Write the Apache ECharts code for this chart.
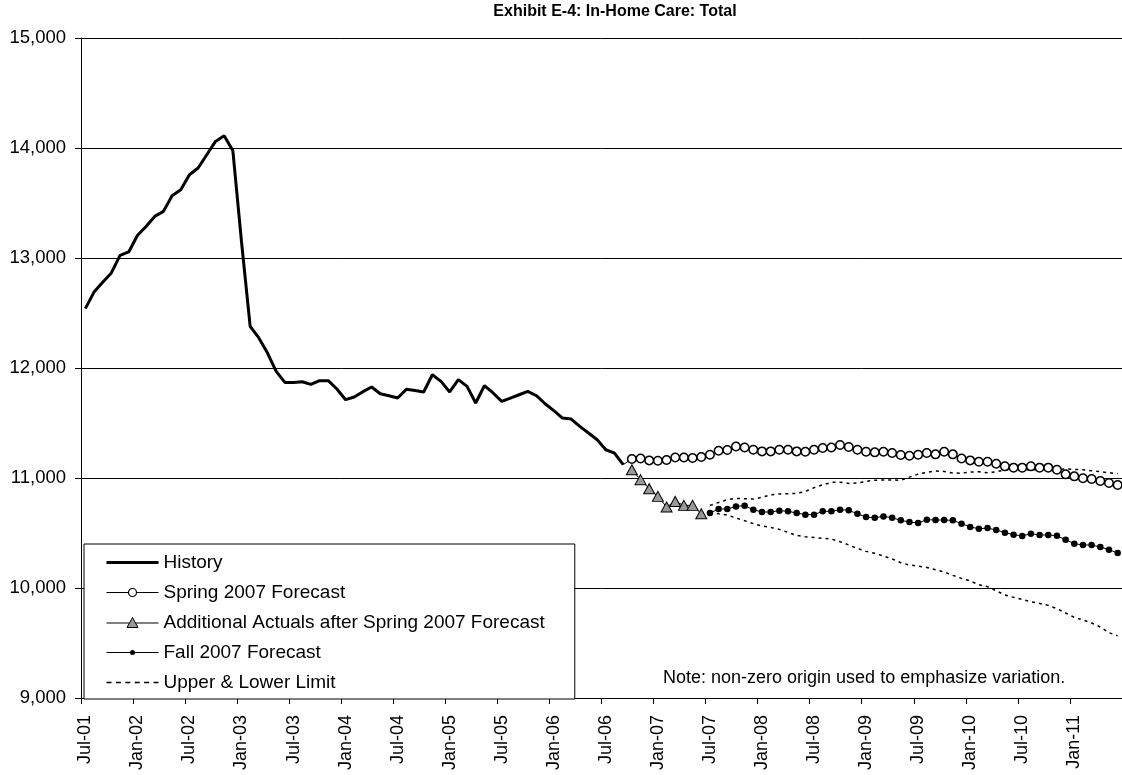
<!DOCTYPE html>
<html><head><meta charset="utf-8">
<script src="https://cdn.jsdelivr.net/npm/echarts@6/dist/echarts.min.js"></script>
<style>html,body{margin:0;padding:0;background:#fff}#c{width:1122px;height:775px}</style>
</head><body><div id="c"></div>
<script>
const FONT = '"Liberation Sans", Arial, sans-serif';
const monthNames = ['Jan','Feb','Mar','Apr','May','Jun','Jul','Aug','Sep','Oct','Nov','Dec'];
// Monthly categories Jul-01 .. Jun-11
const categories = [];
for (let k = 0; k < 120; k++) {
  const m = (6 + k) % 12, y = 1 + Math.floor((6 + k) / 12);
  categories.push(monthNames[m] + '-' + String(y).padStart(2, '0'));
}
const yTicks = [9000, 10000, 11000, 12000, 13000, 14000, 15000];

const historyStart = 0;
const history = [12540,12690,12780,12864,13024,13055,13205,13287,13378,13424,
  13566,13621,13757,13818,13939,14060,14112,13978,13150,12378,
  12273,12136,11969,11869,11869,11875,11851,11885,11885,11809,
  11712,11736,11785,11827,11766,11748,11727,11806,11795,11782,
  11939,11878,11782,11894,11833,11682,11839,11773,11696,11727,
  11757,11787,11748,11675,11612,11545,11536,11469,11409,11348,
  11257,11227,11121];

const springStart = 62;
const spring = [11121,
  11173,11178,11160,11157,11164,11187,11187,11182,11191,
  11212,11248,11255,11287,11278,11257,11242,11242,11257,11257,
  11242,11239,11257,11273,11278,
  11300,11282,11257,11239,11233,11239,11227,11209,11203,11212,
  11227,11215,11239,11215,11178,11160,11148,11148,11130,11106,
  11094,11094,11106,11094,11094,11075,11033,11015,10997,10991,
  10973,10955,10937];

const actualsStart = 63;
const actuals = [11075,10985,10903,10833,10736,10787,10751,10751,10675];

const fallStart = 72;
const fall = [10682,10718,10718,10742,10748,10712,10691,10691,10703,10697,
  10682,10667,10667,10697,10697,10712,10706,10675,10645,10639,
  10651,10639,10615,10600,10591,10621,10618,10618,10615,10585,
  10555,10539,10545,10527,10503,10485,10473,10494,10482,10482,
  10475,10439,10403,10391,10391,10373,10348,10318];

const limitStart = 72;
const upper = [10751,10778,10803,10815,10812,10809,10824,10848,10855,10857,
  10860,10878,10912,10938,10960,10962,10951,10955,10969,10980,
  10982,10982,10980,11008,11035,11052,11063,11060,11045,11044,
  11054,11057,11048,11057,11073,11082,11075,11075,11075,11075,
  11075,11082,11078,11075,11066,11057,11048,11040];
const lower = [10688,10675,10664,10636,10612,10585,10564,10551,10533,10505,
  10478,10466,10460,10451,10445,10421,10391,10360,10333,10315,
  10291,10264,10230,10209,10200,10187,10166,10145,10115,10087,
  10064,10030,10012,9975,9936,9915,9896,9875,9860,9842,
  9812,9773,9733,9709,9682,9645,9594,9565];

const names = ['History','Spring 2007 Forecast','Additional Actuals after Spring 2007 Forecast','Fall 2007 Forecast','Upper & Lower Limit'];

function pad(start, vals) {
  const a = new Array(categories.length).fill(null);
  vals.forEach((v, k) => { a[start + k] = v; });
  return a;
}
const springData = pad(springStart, spring).map((v, k) => k === springStart ? {value: v, symbol: 'none'} : v);

const chart = echarts.init(document.getElementById('c'), null, {renderer: 'canvas'});
chart.setOption({
  animation: false,
  backgroundColor: '#fff',
  title: {
    text: 'Exhibit E-4: In-Home Care: Total',
    left: 610, top: -1, textAlign: 'center',
    textStyle: {fontFamily: FONT, fontSize: 16, fontWeight: 'bold', color: '#000'}
  },
  grid: {left: 81, top: 38, width: 1045.6, height: 660, containLabel: false},
  xAxis: {
    type: 'category', data: categories, boundaryGap: true,
    axisLine: {lineStyle: {color: '#000', width: 1}},
    axisTick: {show: true, interval: 5, length: 6, lineStyle: {color: '#000'}},
    axisLabel: {interval: 5, rotate: 90, margin: 17, fontFamily: FONT, fontSize: 18, color: '#000'},
    splitLine: {show: false}
  },
  yAxis: {
    type: 'value', min: yTicks[0], max: yTicks[yTicks.length - 1], interval: 1000,
    axisLine: {show: true, lineStyle: {color: '#000', width: 1}},
    axisTick: {show: true, length: 6, lineStyle: {color: '#000'}},
    axisLabel: {margin: 15, fontFamily: FONT, fontSize: 18.5, color: '#000',
      formatter: v => v.toLocaleString('en-US')},
    splitLine: {show: true, lineStyle: {color: '#000', width: 1}}
  },
  legend: {
    orient: 'vertical', left: 84, top: 544,
    itemWidth: 52, itemHeight: 10, itemGap: 11,
    padding: [9, 30, 7, 22],
    backgroundColor: '#fff', borderColor: '#000', borderWidth: 1, borderRadius: 0,
    selectedMode: false,
    textStyle: {fontFamily: FONT, fontSize: 19, color: '#000'},
    data: [
      {name: names[0], icon: 'path://M0,0H52V3H0Z', itemStyle: {color: '#000', borderWidth: 0}},
      {name: names[1], itemStyle: {color: '#fff', borderColor: '#000', borderWidth: 1.2}, lineStyle: {color: '#000', width: 1}},
      {name: names[2], icon: 'path://M0,0H23 M29,0H52 M26,-5.5L31.5,4.5H20.5Z', itemStyle: {color: '#999', borderColor: '#000', borderWidth: 1}},
      {name: names[3], icon: 'path://M0,-0.5H52V0.5H0Z M28.5,0A2.5,2.5 0 1 1 23.5,0A2.5,2.5 0 1 1 28.5,0Z', itemStyle: {color: '#000', borderWidth: 0}},
      {name: names[4], icon: 'path://M0,0H5V1.5H0Z M9.4,0H14.4V1.5H9.4Z M18.8,0H23.8V1.5H18.8Z M28.2,0H33.2V1.5H28.2Z M37.6,0H42.6V1.5H37.6Z M47,0H52V1.5H47Z', itemStyle: {color: '#000', borderWidth: 0}}
    ]
  },
  graphic: [{
    type: 'text', x: 663, y: 678, silent: true,
    style: {text: 'Note: non-zero origin used to emphasize variation.', font: '18px ' + FONT, fill: '#000', align: 'left', verticalAlign: 'middle'}
  }],
  series: [
    {name: names[4], type: 'line', data: pad(limitStart, upper), symbol: 'none', silent: true,
      lineStyle: {color: '#000', width: 1.5, type: [3, 4]}, itemStyle: {color: '#000'}, z: 2},
    {name: names[4], type: 'line', data: pad(limitStart, lower), symbol: 'none', silent: true,
      lineStyle: {color: '#000', width: 1.5, type: [3, 4]}, itemStyle: {color: '#000'}, z: 2},
    {name: names[0], type: 'line', data: pad(historyStart, history), symbol: 'none', silent: true,
      lineStyle: {color: '#000', width: 3}, itemStyle: {color: '#000'}, z: 3},
    {name: names[1], type: 'line', data: springData, symbol: 'circle', symbolSize: 8.5, showAllSymbol: true, silent: true,
      lineStyle: {color: '#000', width: 1}, itemStyle: {color: '#fff', borderColor: '#000', borderWidth: 1.5}, z: 3},
    {name: names[2], type: 'line', data: pad(actualsStart, actuals), symbol: 'triangle', symbolSize: [11, 10], showAllSymbol: true, silent: true,
      lineStyle: {color: '#000', width: 1}, itemStyle: {color: '#999', borderColor: '#000', borderWidth: 1}, z: 4},
    {name: names[3], type: 'line', data: pad(fallStart, fall), symbol: 'circle', symbolSize: 6.5, showAllSymbol: true, silent: true,
      lineStyle: {color: '#000', width: 1}, itemStyle: {color: '#000'}, z: 4}
  ]
});
</script></body></html>
